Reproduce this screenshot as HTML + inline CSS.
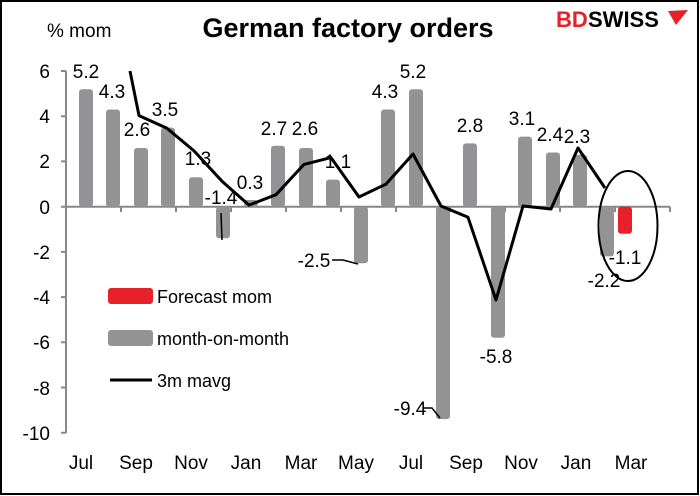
<!DOCTYPE html>
<html><head><style>body{margin:0;background:#fff}svg{display:block}text{font-family:"Liberation Sans",sans-serif;fill:#000}</style></head><body>
<svg width="700" height="496" viewBox="0 0 700 496" xmlns="http://www.w3.org/2000/svg">
<rect x="1" y="1" width="697" height="493" fill="#fff" stroke="#000" stroke-width="2"/>
<text x="348" y="37" font-size="27" font-weight="bold" text-anchor="middle">German factory orders</text>
<text x="556" y="27" font-size="22" font-weight="bold" style="fill:#e8202a">BD</text>
<text x="588" y="27" font-size="22" font-weight="bold">SWISS</text>
<path d="M668 11 L688 10 L676 25 Z" fill="#e8202a"/>
<text x="47" y="37" font-size="19">% mom</text>
<g stroke="#888" stroke-width="2" fill="none">
<line x1="66" y1="71" x2="66" y2="433"/>
<line x1="66" y1="206.7" x2="670" y2="206.7"/>
<path d="M61 71H66M61 116.2H66M61 161.4H66M61 206.7H66M61 251.9H66M61 297.1H66M61 342.3H66M61 387.5H66M61 432.7H66"/>
<path d="M121 207v5M176 207v5M231 207v5M286 207v5M341 207v5M396 207v5M450 207v5M505 207v5M560 207v5M615 207v5M670 207v5"/>
</g>
<g font-size="19" text-anchor="end">
<text x="50" y="78">6</text><text x="50" y="123">4</text><text x="50" y="168">2</text><text x="50" y="214">0</text>
<text x="50" y="259">-2</text><text x="50" y="304">-4</text><text x="50" y="349">-6</text><text x="50" y="395">-8</text><text x="50" y="440">-10</text>
</g>
<g font-size="19" text-anchor="middle">
<text x="81" y="469">Jul</text><text x="136" y="469">Sep</text><text x="191" y="469">Nov</text><text x="246" y="469">Jan</text>
<text x="301" y="469">Mar</text><text x="356" y="469">May</text><text x="411" y="469">Jul</text><text x="466" y="469">Sep</text>
<text x="521" y="469">Nov</text><text x="576" y="469">Jan</text><text x="631" y="469">Mar</text>
</g>
<g fill="#939396">
<rect x="79" y="89.2" width="14" height="117.5" rx="3"/>
<rect x="106" y="109.5" width="14" height="97.2" rx="3"/>
<rect x="134" y="148" width="14" height="58.7" rx="3"/>
<rect x="161" y="127.6" width="14" height="79.1" rx="3"/>
<rect x="189" y="177.3" width="14" height="29.4" rx="3"/>
<rect x="216" y="206.7" width="14" height="31.6" rx="3"/>
<rect x="244" y="200" width="14" height="6.7" rx="3"/>
<rect x="271" y="145.7" width="14" height="61" rx="3"/>
<rect x="299" y="148" width="14" height="58.7" rx="3"/>
<rect x="326" y="179.6" width="14" height="27.1" rx="3"/>
<rect x="354" y="206.7" width="14" height="56.5" rx="3"/>
<rect x="381" y="109.5" width="14" height="97.2" rx="3"/>
<rect x="409" y="89.2" width="14" height="117.5" rx="3"/>
<rect x="436" y="206.7" width="14" height="212.4" rx="3"/>
<rect x="463" y="143.4" width="14" height="63.3" rx="3"/>
<rect x="491" y="206.7" width="14" height="131.1" rx="3"/>
<rect x="518" y="136.6" width="14" height="70.1" rx="3"/>
<rect x="546" y="152.5" width="14" height="54.2" rx="3"/>
<rect x="573" y="154.7" width="14" height="52" rx="3"/>
<rect x="600" y="206.7" width="14" height="49.7" rx="3"/>
</g>
<rect x="618" y="206.7" width="14" height="27" rx="3" fill="#e8202a"/>
<polyline fill="none" stroke="#000" stroke-width="3" stroke-linejoin="round" points="130,71 139,115.6 167,128.3 194,150.9 222,181.2 249,205.1 276,194.7 304,164.4 331,157.6 359,197 386,184.1 413,154 441,206 468,217.3 496,300 523,206 551,209 578,148 605,188"/>
<g stroke="#000" stroke-width="1.5" fill="none">
<line x1="221" y1="213" x2="222" y2="240"/>
<path d="M332 260H343L358 264"/>
<path d="M423 408H432L440 418"/>
</g>
<g font-size="19" text-anchor="middle">
<text x="86" y="78">5.2</text><text x="112" y="98">4.3</text><text x="137" y="136">2.6</text><text x="165" y="116">3.5</text>
<text x="198" y="165">1.3</text><text x="221" y="204">-1.4</text><text x="250" y="189">0.3</text><text x="274" y="135">2.7</text>
<text x="305" y="135">2.6</text><text x="338" y="168">1.1</text><text x="314" y="267">-2.5</text><text x="385" y="98">4.3</text>
<text x="413" y="78">5.2</text><text x="410" y="415">-9.4</text><text x="470" y="132">2.8</text><text x="496" y="363">-5.8</text>
<text x="522" y="125">3.1</text><text x="550" y="141">2.4</text><text x="577" y="143">2.3</text><text x="604" y="287">-2.2</text><text x="625" y="264">-1.1</text>
</g>
<ellipse cx="628" cy="226" rx="29.5" ry="55" fill="none" stroke="#000" stroke-width="2"/>
<rect x="108" y="288" width="45" height="16" rx="3" fill="#e8202a"/>
<text x="157" y="303" font-size="18">Forecast mom</text>
<rect x="108" y="330" width="45" height="16" rx="3" fill="#939396"/>
<text x="157" y="345" font-size="18">month-on-month</text>
<line x1="110" y1="380" x2="152" y2="380" stroke="#000" stroke-width="3"/>
<text x="157" y="387" font-size="18">3m mavg</text>
</svg>
</body></html>
